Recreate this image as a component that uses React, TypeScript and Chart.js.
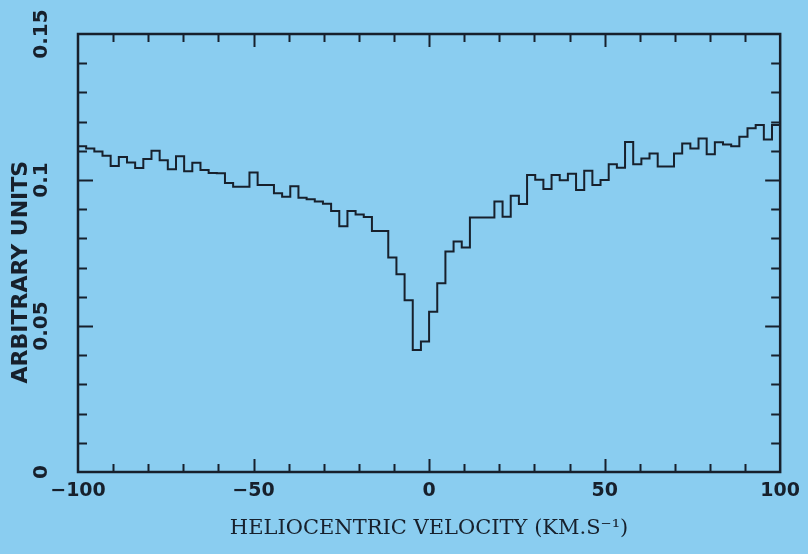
import { useEffect, useRef } from 'react';
import { Chart, registerables } from 'chart.js';

Chart.register(...registerables);

// Spectrum: 86 velocity channels spanning -100 .. +100 km/s
const VELOCITY_MIN = -100;
const VELOCITY_MAX = 100;
const CHANNEL_COUNT = 86;

const INTENSITY = [
  0.1116, 0.1108, 0.1098, 0.1083, 0.1048, 0.1079, 0.1060, 0.1041, 0.1072, 0.1100,
  0.1068, 0.1037, 0.1081, 0.1030, 0.1059, 0.1034, 0.1024, 0.1023, 0.0990, 0.0977,
  0.0977, 0.1026, 0.0983, 0.0983, 0.0955, 0.0943, 0.0979, 0.0939, 0.0934, 0.0926,
  0.0919, 0.0894, 0.0842, 0.0894, 0.0882, 0.0873, 0.0825, 0.0825, 0.0735, 0.0677,
  0.0588, 0.0418, 0.0447, 0.0549, 0.0646, 0.0755, 0.0789, 0.0769, 0.0872, 0.0872,
  0.0872, 0.0926, 0.0874, 0.0946, 0.0918, 0.1017, 0.1001, 0.0969, 0.1017, 0.0999,
  0.1021, 0.0966, 0.1032, 0.0983, 0.1000, 0.1054, 0.1042, 0.1130, 0.1054, 0.1074,
  0.1091, 0.1046, 0.1046, 0.1091, 0.1125, 0.1108, 0.1142, 0.1088, 0.1129, 0.1122,
  0.1116, 0.1148, 0.1177, 0.1188, 0.1139, 0.1188,
];

const X_TICK_LABELS = [-100, -50, 0, 50, 100];
const Y_TICK_LABELS = [0, 0.05, 0.1, 0.15];
const X_MINOR_TICKS = [-90, -80, -70, -60, -50, -40, -30, -20, -10, 0, 10, 20, 30, 40, 50, 60, 70, 80, 90];
const Y_MINOR_TICKS = [0.01, 0.02, 0.03, 0.04, 0.05, 0.06, 0.07, 0.08, 0.09, 0.1, 0.11, 0.12, 0.13, 0.14];

const X_TITLE = 'HELIOCENTRIC VELOCITY (KM.S\u207B\u00B9)';
const Y_TITLE = 'ARBITRARY UNITS     ';

const BG = '#8acdf0';
const INK = '#17202c';

const frameTicks = {
  id: 'frameTicks',
  afterDatasetsDraw(chart: any) {
    const { ctx, chartArea, scales } = chart;
    const { left, right, top, bottom } = chartArea;
    const xs = scales.x;
    const ys = scales.y;
    ctx.save();
    ctx.strokeStyle = INK;
    ctx.lineWidth = 2.5;
    ctx.strokeRect(left, top, right - left, bottom - top);
    ctx.lineWidth = 2;
    ctx.beginPath();
    for (const v of X_MINOR_TICKS) {
      const px = Math.round(xs.getPixelForValue(v)) + 0.5;
      const len = v % 50 === 0 ? 13 : 8;
      ctx.moveTo(px, bottom);
      ctx.lineTo(px, bottom - len);
      ctx.moveTo(px, top);
      ctx.lineTo(px, top + len);
    }
    for (const v of Y_MINOR_TICKS) {
      const py = Math.round(ys.getPixelForValue(v)) + 0.5;
      const r = Math.round(v * 100) % 5;
      const len = r === 0 ? 15 : 9;
      ctx.moveTo(left, py);
      ctx.lineTo(left + len, py);
      ctx.moveTo(right, py);
      ctx.lineTo(right - len, py);
    }
    ctx.stroke();
    ctx.restore();
  },
};

export default function App() {
  const canvasRef = useRef<HTMLCanvasElement | null>(null);

  useEffect(() => {
    const canvas = canvasRef.current;
    if (!canvas) return;
    const width = (VELOCITY_MAX - VELOCITY_MIN) / CHANNEL_COUNT;
    const points = INTENSITY.map((v, i) => ({ x: VELOCITY_MIN + i * width, y: v }));
    points.push({ x: VELOCITY_MAX, y: INTENSITY[INTENSITY.length - 1] });

    const chart = new Chart(canvas, {
      type: 'line',
      data: {
        datasets: [
          {
            data: points,
            stepped: 'before',
            borderColor: INK,
            borderWidth: 2,
            pointRadius: 0,
            fill: false,
          },
        ],
      },
      options: {
        animation: false,
        responsive: false,
        events: [],
        layout: { padding: { left: 8, top: 34, right: 27, bottom: 0 } },
        plugins: { legend: { display: false }, tooltip: { enabled: false } },
        scales: {
          x: {
            type: 'linear',
            min: VELOCITY_MIN,
            max: VELOCITY_MAX,
            grid: { display: false, drawTicks: false },
            border: { display: false },
            afterBuildTicks: (s: any) => {
              s.ticks = X_TICK_LABELS.map((value) => ({ value }));
            },
            ticks: {
              autoSkip: false,
              maxRotation: 0,
              padding: 8,
              color: INK,
              font: { family: 'DejaVu Sans', weight: 'bold', size: 19 },
              callback: (v: any) => (Number(v) < 0 ? '\u2212' + Math.abs(Number(v)) : String(v)),
            },
            title: {
              display: true,
              text: X_TITLE,
              color: INK,
              font: { family: 'DejaVu Serif', size: 21 },
              padding: { top: 0, bottom: 13 },
            },
            afterFit: (s: any) => {
              s.height = 82;
            },
          },
          y: {
            type: 'linear',
            min: 0,
            max: 0.15,
            grid: { display: false, drawTicks: false },
            border: { display: false },
            afterBuildTicks: (s: any) => {
              s.ticks = Y_TICK_LABELS.map((value) => ({ value }));
            },
            ticks: {
              autoSkip: false,
              minRotation: 90,
              maxRotation: 90,
              crossAlign: 'center',
              padding: 12,
              color: INK,
              font: { family: 'DejaVu Sans', weight: 'bold', size: 20 },
              callback: (v: any) => String(Number(v)),
            },
            title: {
              display: true,
              text: Y_TITLE,
              color: INK,
              font: { family: 'DejaVu Sans', weight: 'bold', size: 22 },
              padding: { top: 0, bottom: 0 },
            },
            afterFit: (s: any) => {
              s.width = 70;
            },
          },
        },
      },
      plugins: [frameTicks],
    } as any);

    return () => chart.destroy();
  }, []);

  return (
    <div style={{ position: 'fixed', left: 0, top: 0, width: 808, height: 554, background: BG }}>
      <canvas ref={canvasRef} width={808} height={554} style={{ display: 'block' }} />
    </div>
  );
}
